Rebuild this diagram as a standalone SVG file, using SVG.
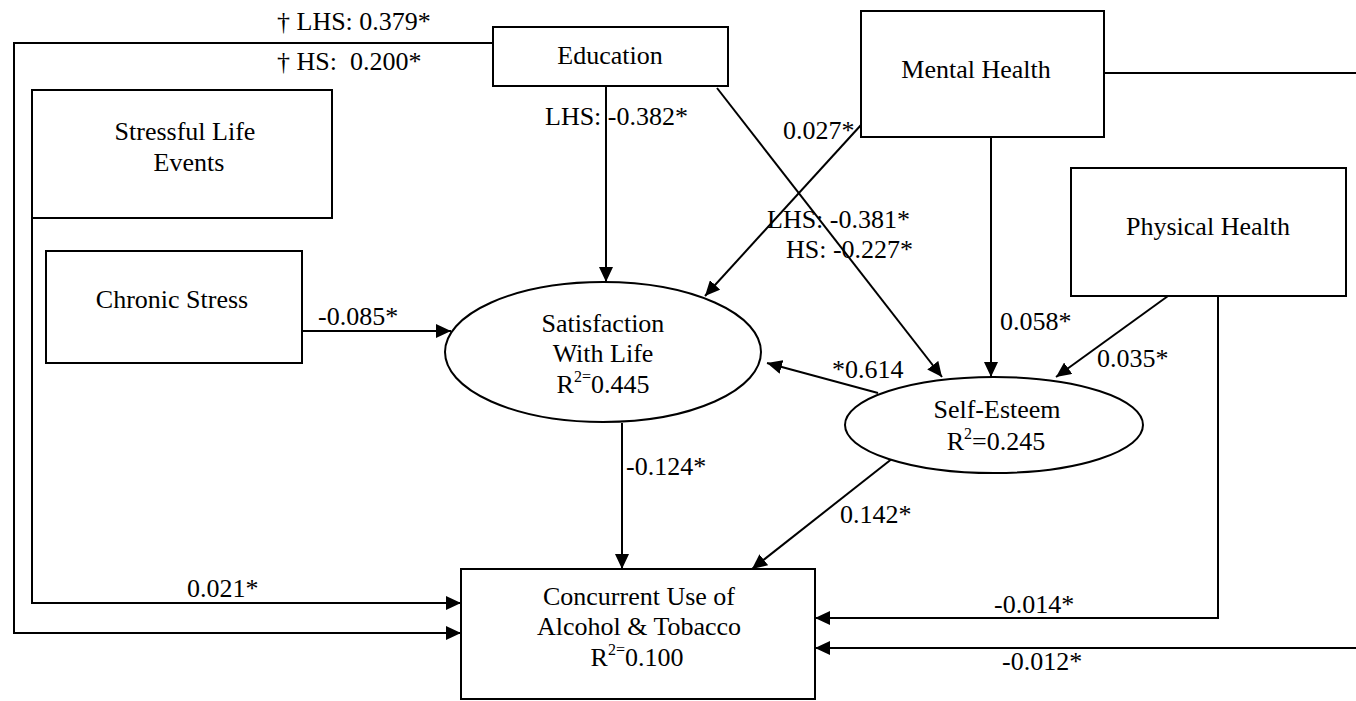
<svg xmlns="http://www.w3.org/2000/svg" width="1356" height="701" viewBox="0 0 1356 701">
  <style>
    .box { fill: #fff; stroke: #000; stroke-width: 2; }
    .lbl { font-family: "Liberation Serif", "Times New Roman", serif; font-size: 26px; fill: #000; }
    .mid { text-anchor: middle; }
    .sup { font-size: 16px; }
    .edge { fill: none; stroke: #000; stroke-width: 2; }
  </style>
  <defs>
    <marker id="arrow" markerUnits="userSpaceOnUse" markerWidth="16" markerHeight="14" refX="15" refY="7" orient="auto">
      <path d="M0,0 L15,7 L0,14 Z" fill="#000"/>
    </marker>
  </defs>

  <rect width="1356" height="701" fill="#fff"/>

  <!-- connectors -->
  <g id="connectors">
    <path class="edge" d="M606,86 V282" marker-end="url(#arrow)"/>
    <path class="edge" d="M717,88 L942,377" marker-end="url(#arrow)"/>
    <path class="edge" d="M861,125 L705,296" marker-end="url(#arrow)"/>
    <path class="edge" d="M991,137 V377" marker-end="url(#arrow)"/>
    <path class="edge" d="M1168,296 L1056,377" marker-end="url(#arrow)"/>
    <path class="edge" d="M302,331 H451" marker-end="url(#arrow)"/>
    <path class="edge" d="M878,393 L767,363" marker-end="url(#arrow)"/>
    <path class="edge" d="M622,423 V569" marker-end="url(#arrow)"/>
    <path class="edge" d="M893,458 L752,569" marker-end="url(#arrow)"/>
    <path class="edge" d="M32,218 V603 H461" marker-end="url(#arrow)"/>
    <path class="edge" d="M493,43 H14 V633 H461" marker-end="url(#arrow)"/>
    <path class="edge" d="M1218,296 V618 H815" marker-end="url(#arrow)"/>
    <path class="edge" d="M1104,73 H1356 M1356,648 H815" marker-end="url(#arrow)"/>
  </g>

  <!-- path coefficients -->
  <g id="edge-labels" class="lbl">
    <text x="277" y="30">† LHS: 0.379*</text>
    <text x="277" y="70" xml:space="preserve">† HS:  0.200*</text>
    <text x="545" y="125">LHS: -0.382*</text>
    <text x="783" y="139">0.027*</text>
    <text x="767" y="228">LHS: -0.381*</text>
    <text x="786" y="258">HS: -0.227*</text>
    <text x="1000" y="330">0.058*</text>
    <text x="1097" y="367">0.035*</text>
    <text x="318" y="325">-0.085*</text>
    <text x="832" y="378">*0.614</text>
    <text x="626" y="475">-0.124*</text>
    <text x="840" y="523">0.142*</text>
    <text x="187" y="597">0.021*</text>
    <text x="994" y="613">-0.014*</text>
    <text x="1002" y="670">-0.012*</text>
  </g>

  <g id="education">
    <rect class="box" x="493" y="27" width="235" height="59"/>
    <text class="lbl mid" x="610" y="64">Education</text>
  </g>

  <g id="mental-health">
    <rect class="box" x="861" y="11" width="243" height="126"/>
    <text class="lbl mid" x="976" y="78">Mental Health</text>
  </g>

  <g id="physical-health">
    <rect class="box" x="1071" y="168" width="275" height="128"/>
    <text class="lbl mid" x="1208" y="235">Physical Health</text>
  </g>

  <g id="stressful-life-events">
    <rect class="box" x="32" y="90" width="300" height="128"/>
    <text class="lbl mid" x="185" y="140">Stressful Life</text>
    <text class="lbl mid" x="189" y="171">Events</text>
  </g>

  <g id="chronic-stress">
    <rect class="box" x="46" y="251" width="256" height="112"/>
    <text class="lbl mid" x="172" y="308">Chronic Stress</text>
  </g>

  <g id="satisfaction-with-life">
    <ellipse class="box" cx="603" cy="352" rx="158" ry="70"/>
    <text class="lbl mid" x="603" y="332">Satisfaction</text>
    <text class="lbl mid" x="603" y="362">With Life</text>
    <text class="lbl mid" x="603" y="393">R<tspan class="sup" dy="-11">2=</tspan><tspan dy="11">0.445</tspan></text>
  </g>

  <g id="self-esteem">
    <ellipse class="box" cx="994" cy="425" rx="149" ry="48"/>
    <text class="lbl mid" x="997" y="418">Self-Esteem</text>
    <text class="lbl mid" x="996" y="450">R<tspan class="sup" dy="-11">2</tspan><tspan dy="11">=0.245</tspan></text>
  </g>

  <g id="concurrent-use">
    <rect class="box" x="461" y="569" width="354" height="130"/>
    <text class="lbl mid" x="639" y="605">Concurrent Use of</text>
    <text class="lbl mid" x="639" y="635">Alcohol &amp; Tobacco</text>
    <text class="lbl mid" x="637" y="666">R<tspan class="sup" dy="-11">2=</tspan><tspan dy="11">0.100</tspan></text>
  </g>
</svg>
